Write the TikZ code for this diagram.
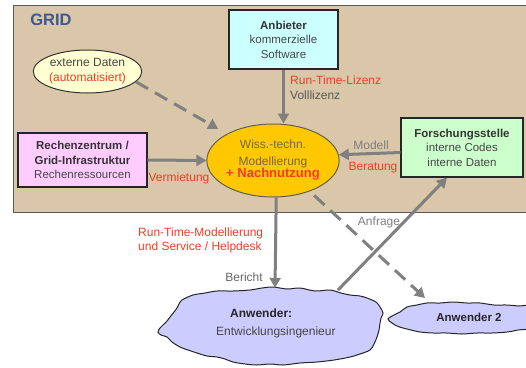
\documentclass[tikz,border=0pt]{standalone}
\usepackage{fontspec}
\setmainfont{Liberation Sans}
\usetikzlibrary{shapes.geometric,arrows.meta,calc}
\definecolor{tanbg}{RGB}{218,198,168}
\definecolor{gridblue}{RGB}{60,90,140}
\definecolor{lblred}{RGB}{240,60,40}
\definecolor{lblgray}{RGB}{128,128,128}
\definecolor{txtgray}{RGB}{70,70,70}
\definecolor{arrgray}{RGB}{128,128,128}
\definecolor{cyanbox}{RGB}{204,255,255}
\definecolor{pinkbox}{RGB}{255,204,255}
\definecolor{greenbox}{RGB}{204,255,204}
\definecolor{paleyellow}{RGB}{255,255,210}
\definecolor{goldell}{RGB}{255,200,0}
\definecolor{lav}{RGB}{204,204,255}
\tikzset{
  boxnode/.style={draw=black!85, line width=1.2pt, align=center, inner sep=0pt,
    text=txtgray, font=\fontsize{11.5}{14.5}\selectfont},
  conn/.style={draw=arrgray, line width=3pt, -{Triangle[length=10pt,width=11pt]}},
  dashconn/.style={conn, dash pattern=on 14pt off 8pt},
  lbl/.style={inner sep=0pt, font=\fontsize{12}{14}\selectfont},
  redlbl/.style={lbl, text=lblred},
  graylbl/.style={lbl, text=lblgray},
  cloudline/.style={draw=black!85, line width=1pt, fill=lav},
  cloudtxt/.style={inner sep=0pt, font=\fontsize{12}{14}\selectfont, text=txtgray}
}
\begin{document}
\begin{tikzpicture}[x=1pt,y=-1pt]
\useasboundingbox (0,0) rectangle (526,367);
% background GRID area
\fill[tanbg] (13,5) rectangle (526,212);
\draw[black!65, line width=1pt] (526,5) -- (13,5) -- (13,212) -- (526,212);
\node[inner sep=0pt, text=gridblue, font=\fontsize{16.5}{18}\selectfont\bfseries] (grid) at (51,20) {GRID};

% nodes
\node[ellipse, draw=black!80, line width=1pt, fill=paleyellow, minimum width=99pt, minimum height=43pt,
  inner sep=0pt, align=center, text=txtgray, font=\fontsize{12}{15}\selectfont] (ext) at (87.5,71.5)
  {externe Daten\\\textcolor{lblred}{(automatisiert)}};
\node[boxnode, fill=cyanbox, minimum width=109pt, minimum height=59pt] (anb) at (283.5,39.5)
  {\textcolor{black!80}{\bfseries Anbieter}\\kommerzielle\\Software};
\node[boxnode, fill=pinkbox, minimum width=129pt, minimum height=54pt] (rz) at (82.5,160)
  {\textcolor{black!80}{\bfseries Rechenzentrum /}\\\textcolor{black!80}{\bfseries Grid-Infrastruktur}\\Rechenressourcen};
\node[boxnode, fill=greenbox, minimum width=122pt, minimum height=59pt] (fs) at (462,147.5)
  {\textcolor{black!80}{\bfseries Forschungsstelle}\\interne Codes\\interne Daten};
\node[ellipse, draw=black!70!yellow, line width=1pt, fill=goldell, minimum width=128pt, minimum height=73pt,
  inner sep=0pt, align=center, text=black!65!yellow, font=\fontsize{12}{14}\selectfont] (wiss) at (273,160.5)
  {Wiss.-techn.\\[3pt]Modellierung\\[-2pt]\textcolor{lblred}{\fontsize{13}{14}\selectfont\bfseries + Nachnutzung}};

% clouds (outline drawn directly, named ellipse nodes for anchoring)
\draw[cloudline] plot[smooth cycle, tension=0.55] coordinates {
  (182,300) (193,295) (205,293) (217,291) (233,291) (250,290) (262,288) (273,287) (287,289) (300,288)
  (315,291) (330,290) (341,293) (350,295) (360,296) (367,298) (376,302) (380,307) (383,313)
  (381,318) (380,323) (379,330) (377,337) (374,344) (370,350) (360,354) (350,357) (334,360)
  (317,362) (300,363) (283,365) (270,364) (257,365) (245,364) (233,362) (225,359) (217,357)
  (207,356) (197,353) (188,350) (180,347) (172,342) (167,337) (161,335) (158,332) (160,328)
  (163,325) (167,321) (170,317) (174,312) (177,308) (179,304)};
\draw[cloudline] plot[smooth cycle, tension=0.55] coordinates {
  (388,319) (394,315) (400,312) (407,307) (417,305) (427,303) (440,303) (453,302) (467,303)
  (480,303) (494,305) (507,305) (518,306) (530,307) (530,327) (518,330) (507,332) (492,333)
  (477,333) (462,334) (447,333) (433,333) (420,332) (411,330) (403,328) (397,326) (392,323)};
\node[ellipse, minimum width=226pt, minimum height=78pt, inner sep=0pt] (anw) at (270,326) {};
\node[ellipse, minimum width=138pt, minimum height=32pt, inner sep=0pt] (anw2) at (457,317) {};
\node[cloudtxt, anchor=west, text=black!85, font=\fontsize{12}{14}\selectfont\bfseries] (anwA) at (230,313) {Anwender:};
\node[cloudtxt, anchor=west] (anwB) at (216,332) {Entwicklungsingenieur};
\node[cloudtxt, text=black!85, font=\fontsize{11.5}{14}\selectfont\bfseries] (anw2t) at (469,317) {Anwender 2};

% connectors
\draw[conn] (anb.south) -- (anb.south |- wiss.north);
\draw[conn] (rz.east) -- (wiss.west);
\draw[conn] ($(fs.west)+(0,5)$) -- (wiss.5);
\draw[dashconn, shorten >=10pt] (ext.-12) -- (wiss.150);
\draw[conn] (wiss.-85) -- ($(anw.north)+(5,1)$);
\draw[conn] ($(anw.center)+(68,-36)$) -- ($(fs.south)+(-15,0)$);
\draw[dashconn, shorten <=6pt] (wiss.-40) -- ($(anw2.center)+(-32,-19)$);

% labels
\node[redlbl, anchor=west] (l1) at (290,80) {Run-Time-Lizenz};
\node[lbl, text=black!65, anchor=west] (l2) at (290,95) {Volllizenz};
\node[graylbl] (l3) at (371,145) {Modell};
\node[redlbl] (l4) at (373,168) {Beratung};
\node[redlbl] (l5) at (179,178) {Vermietung};
\node[redlbl, anchor=west, align=left] (l6) at (138,240) {Run-Time-Modellierung\\und Service / Helpdesk};
\node[lbl, text=black!60] (l7) at (244,277) {Bericht};
\node[graylbl] (l8) at (379,222) {Anfrage};
\end{tikzpicture}
\end{document}
